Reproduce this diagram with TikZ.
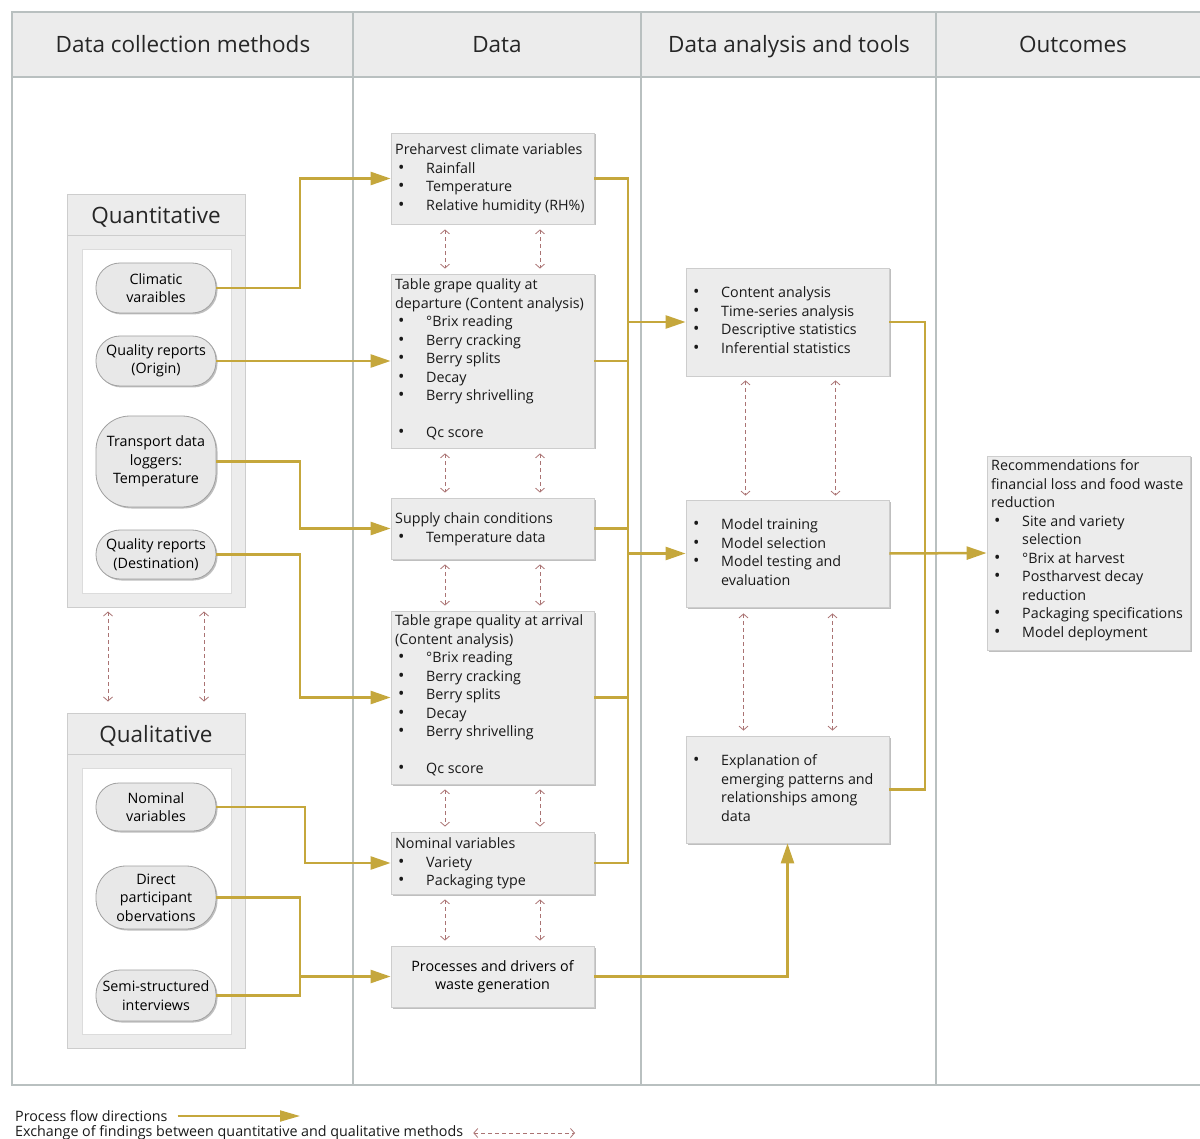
\documentclass[tikz,border=0pt]{standalone}
\usepackage{fontspec}
\setmainfont{Open Sans}
\usetikzlibrary{arrows.meta,shadows}

\definecolor{framegray}{RGB}{185,192,192}
\definecolor{headfill}{RGB}{236,236,236}
\definecolor{boxfill}{RGB}{236,236,236}
\definecolor{boxline}{RGB}{205,205,205}
\definecolor{pillfill}{RGB}{232,232,232}
\definecolor{pillline}{RGB}{160,160,160}
\definecolor{gold}{RGB}{197,167,60}
\definecolor{xred}{RGB}{170,115,115}

% bullet followed by the item text
\newcommand\bulletitem{\hspace*{3pt}\makebox[28pt][l]{\fontsize{17}{0}\selectfont\textbullet}}
\newcommand\contline{\hspace*{31pt}}

\begin{document}
\begin{tikzpicture}[x=1pt,y=-1pt,
  body/.style={font=\fontsize{14.3}{18.5}\selectfont},
  txt/.style={body,align=left,inner sep=0pt,text=black!90},
  hdr/.style={font=\fontsize{22.5}{26}\selectfont,text=black!85,text height=22pt,text depth=5pt},
  shad/.style={drop shadow={shadow xshift=1.5pt,shadow yshift=-1.5pt,opacity=0.25,fill=black}},
  databox/.style={draw=boxline,fill=boxfill,line width=0.8pt,shad,inner sep=0pt,minimum width=203pt},
  pill/.style={draw=pillline,fill=pillfill,line width=0.8pt,shad,body,align=center,inner sep=0pt,minimum width=120pt},
  grp/.style={draw=boxline,fill=headfill,line width=1pt,inner sep=0pt,minimum width=178pt},
  inbox/.style={draw=boxline!70,fill=white,line width=1pt,inner sep=0pt,minimum width=149pt},
  frame/.style={draw=framegray,line width=1.4pt},
  goldline/.style={draw=gold,line width=2.5pt},
  flow/.style={goldline,-{Triangle[length=20pt,width=13pt]}},
  xchg/.style={draw=xred,line width=0.8pt,dash pattern=on 4pt off 3pt,
    {Straight Barb[length=4pt,width=9pt]}-{Straight Barb[length=4pt,width=9pt]}}
]
\useasboundingbox (0,0) rectangle (1200,1139);

% ---------- swimlane frame ----------
\fill[headfill] (12,12) rectangle (1200,77);
\draw[frame] (1200,12) -- (12,12) -- (12,1085) -- (1200,1085);
\draw[frame] (12,77) -- (1200,77);
\draw[frame] (353,12) -- (353,1085);
\draw[frame] (641,12) -- (641,1085);
\draw[frame] (936,12) -- (936,1085);

\node[hdr] (h1) at (183,44) {Data collection methods};
\node[hdr] (h2) at (497,44) {Data};
\node[hdr] (h3) at (789,44) {Data analysis and tools};
\node[hdr] (h4) at (1073,44) {Outcomes};

% ---------- collection methods ----------
\node[grp,minimum height=412pt] (qn) at (156,401) {};
\node[grp,minimum height=41pt,hdr] (qnt) at (156,215.5) {Quantitative};
\node[inbox,minimum height=343pt] (qni) at (156.5,421.5) {};

\node[grp,minimum height=335pt] (ql) at (156,880.5) {};
\node[grp,minimum height=41pt,hdr] (qlt) at (156,733.5) {Qualitative};
\node[inbox,minimum height=266pt] (qli) at (156.5,901) {};

\node[pill,minimum height=50pt,rounded corners=24pt] (clim) at (156,288) {Climatic\\varaibles};
\node[pill,minimum height=50pt,rounded corners=24pt] (qo) at (156,361) {Quality reports\\(Origin)};
\node[pill,minimum height=91pt,rounded corners=34pt] (tr) at (156,461.5) {Transport data\\loggers:\\Temperature};
\node[pill,minimum height=49pt,rounded corners=24pt] (qd) at (156,554.5) {Quality reports\\(Destination)};
\node[pill,minimum height=48pt,rounded corners=23pt] (nv) at (156,807) {Nominal\\variables};
\node[pill,minimum height=63pt,rounded corners=30pt] (dir) at (156,897.5) {Direct\\participant\\obervations};
\node[pill,minimum height=51pt,rounded corners=24pt] (semi) at (156,995.5) {Semi-structured\\interviews};

% ---------- data ----------
\node[databox,minimum height=91pt] (pre) at (492.5,178.5) {};
\node[databox,minimum height=174pt] (dep) at (492.5,361) {};
\node[databox,minimum height=61pt] (sup) at (492.5,528.5) {};
\node[databox,minimum height=173pt] (arr) at (492.5,697.5) {};
\node[databox,minimum height=62pt] (nom) at (492.5,863) {};
\node[databox,minimum height=61pt,body,align=center] (proc) at (492.5,976.5) {Processes and drivers of\\waste generation};

\node[txt,anchor=north west] (pre-t) at (395,141.5) {\strut Preharvest climate variables\\
  \bulletitem Rainfall\\ \bulletitem Temperature\\ \bulletitem Relative humidity (RH\%)};
\node[txt,anchor=north west] (dep-t) at (395,276.5) {\strut Table grape quality at\\
  departure (Content analysis)\\ \bulletitem °Brix reading\\ \bulletitem Berry cracking\\
  \bulletitem Berry splits\\ \bulletitem Decay\\ \bulletitem Berry shrivelling\\[18.5pt]
  \bulletitem Qc score};
\node[txt,anchor=north west] (sup-t) at (395,510.5) {\strut Supply chain conditions\\
  \bulletitem Temperature data};
\node[txt,anchor=north west] (arr-t) at (395,612.5) {\strut Table grape quality at arrival\\
  (Content analysis)\\ \bulletitem °Brix reading\\ \bulletitem Berry cracking\\
  \bulletitem Berry splits\\ \bulletitem Decay\\ \bulletitem Berry shrivelling\\[18.5pt]
  \bulletitem Qc score};
\node[txt,anchor=north west] (nom-t) at (395,835.5) {\strut Nominal variables\\
  \bulletitem Variety\\ \bulletitem Packaging type};

% ---------- analysis ----------
\node[databox,minimum height=108pt] (ca) at (787.5,322) {};
\node[databox,minimum height=107pt] (mt) at (787.5,553.5) {};
\node[databox,minimum height=107pt] (ex) at (787.5,789.5) {};

\node[txt,anchor=north west] (ca-t) at (690,284.5) {\strut\bulletitem Content analysis\\
  \bulletitem Time-series analysis\\ \bulletitem Descriptive statistics\\ \bulletitem Inferential statistics};
\node[txt,anchor=north west] (mt-t) at (690,516.5) {\strut\bulletitem Model training\\
  \bulletitem Model selection\\ \bulletitem Model testing and\\ \contline evaluation};
\node[txt,anchor=north west] (ex-t) at (690,752.5) {\strut\bulletitem Explanation of\\
  \contline emerging patterns and\\ \contline relationships among\\ \contline data};

% ---------- outcomes ----------
\node[databox,minimum height=194pt] (out) at (1088.5,553) {};
\node[txt,anchor=north west] (out-t) at (991,457.5) {\strut Recommendations for\\
  financial loss and food waste\\ reduction\\ \bulletitem Site and variety\\ \contline selection\\
  \bulletitem °Brix at harvest\\ \bulletitem Postharvest decay\\ \contline reduction\\
  \bulletitem Packaging specifications\\ \bulletitem Model deployment};

% ---------- process flow ----------
\draw[flow] (clim.east) -- (300,288) |- (pre.west);
\draw[flow] (qo.east) -- (dep.west);
\draw[flow] (tr.east) -- (300,461.5) |- (sup.west);
\draw[flow] (qd.east) -- (300,554.5) |- (arr.west);
\draw[flow] (nv.east) -- (305,807) |- (nom.west);
\coordinate (jq) at (300,976.5);
\draw[goldline] (dir.east) -| (jq);
\draw[goldline] (semi.east) -| (jq);
\draw[flow] (jq) -- (proc.west);

\coordinate (bt) at (628,178.5);
\coordinate (bb) at (628,863);
\draw[goldline] (pre.east) -- (bt) -- (bb) -- (nom.east);
\draw[goldline] (dep.east) -- (628,361);
\draw[goldline] (sup.east) -- (628,528.5);
\draw[goldline] (arr.east) -- (628,697.5);
\draw[flow] (628,322) -- (ca.west);
\draw[flow] (628,553.5) -- (mt.west);
\draw[flow] (proc.east) -| (ex.south);

\draw[goldline] (ca.east) -- (925,322) -- (925,789.5) -- (ex.east);
\draw[flow] (mt.east) -- (out.west);

% ---------- exchange of findings ----------
\foreach \a/\b in {pre/dep,dep/sup,sup/arr,arr/nom,nom/proc}{
  \draw[xchg,shorten <=5pt,shorten >=5pt] ([xshift=-47.5pt]\a.south) -- ([xshift=-47.5pt]\b.north);
  \draw[xchg,shorten <=5pt,shorten >=5pt] ([xshift=47.5pt]\a.south) -- ([xshift=47.5pt]\b.north);
}
\draw[xchg,shorten <=4pt,shorten >=4pt] ([xshift=-42pt]ca.south) -- ([xshift=-42pt]mt.north);
\draw[xchg,shorten <=4pt,shorten >=4pt] ([xshift=48pt]ca.south) -- ([xshift=48pt]mt.north);
\draw[xchg,shorten <=6pt,shorten >=5pt] ([xshift=-44pt]mt.south) -- ([xshift=-44pt]ex.north);
\draw[xchg,shorten <=6pt,shorten >=5pt] ([xshift=45pt]mt.south) -- ([xshift=45pt]ex.north);
\draw[xchg,shorten <=4pt,shorten >=11pt] ([xshift=-48pt]qn.south) -- ([xshift=-48pt]ql.north);
\draw[xchg,shorten <=4pt,shorten >=11pt] ([xshift=48pt]qn.south) -- ([xshift=48pt]ql.north);

% ---------- legend ----------
\node[txt,anchor=west] (leg1) at (15,1116) {Process flow directions};
\coordinate (leg1e) at (300,1116);
\draw[goldline,line width=2pt,-{Triangle[length=20pt,width=11pt]}] ([xshift=10pt]leg1.east) -- (leg1e);
\node[txt,anchor=west] (leg2) at (15,1133) {Exchange of findings between quantitative and qualitative methods};
\coordinate (leg2e) at (575,1133);
\draw[xchg] ([xshift=10pt]leg2.east) -- (leg2e);
\end{tikzpicture}
\end{document}
